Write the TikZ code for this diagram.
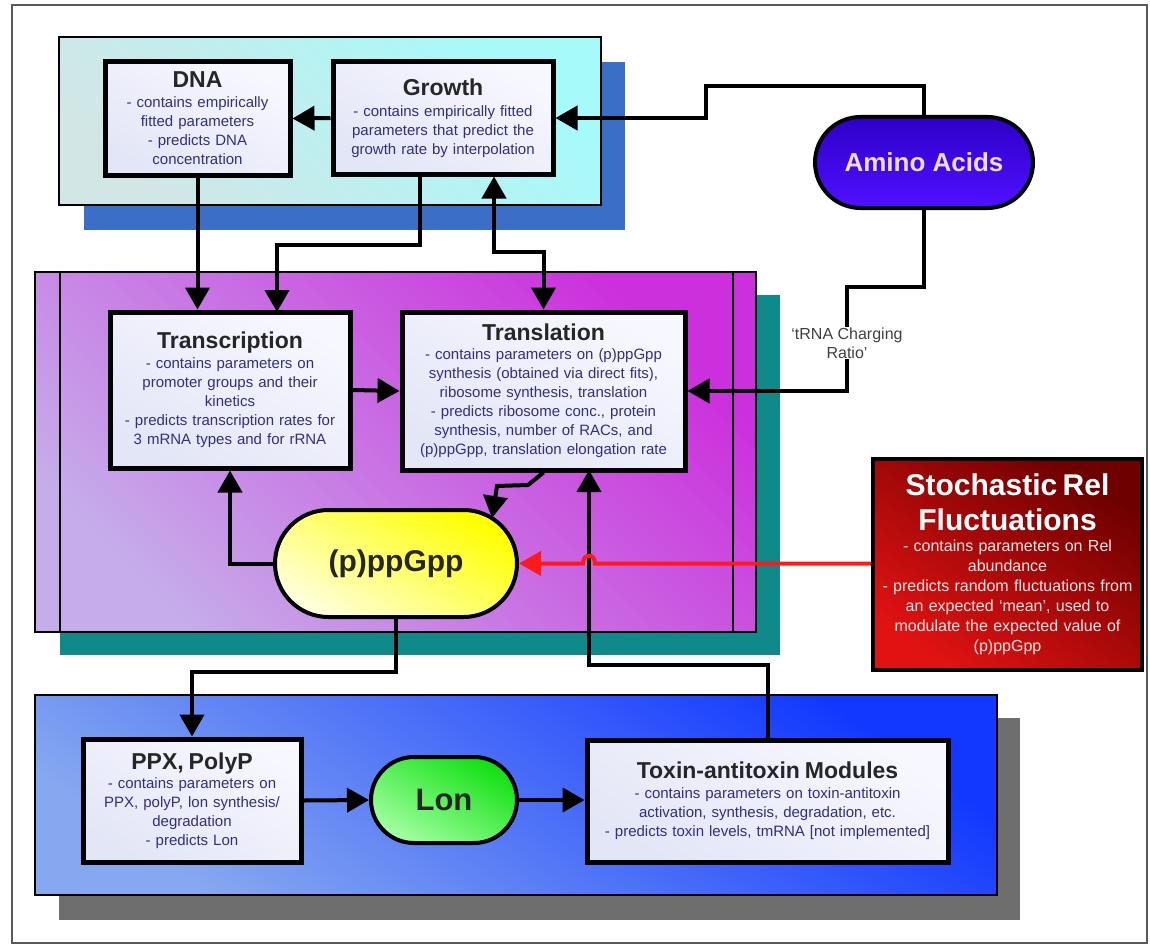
\documentclass[tikz,border=0pt]{standalone}
\usepackage{fontspec}
\setmainfont{Liberation Sans}
\usetikzlibrary{arrows.meta,shapes.misc,calc}
\definecolor{txt}{HTML}{30307E}
\definecolor{boxtop}{HTML}{F7F7FF}
\definecolor{boxbot}{HTML}{E3E6F6}
\definecolor{shadowblue}{HTML}{3B6EC6}
\definecolor{tealsh}{HTML}{10898A}
\definecolor{graysh}{HTML}{6E6E6E}
\definecolor{cyanA}{HTML}{A6FAFA}
\definecolor{cyanB}{HTML}{D2E6E6}
\definecolor{magA}{HTML}{CC30DC}
\definecolor{magB}{HTML}{C6ACEA}
\definecolor{bluA}{HTML}{1238FF}
\definecolor{bluB}{HTML}{86A8F0}
\definecolor{redA}{HTML}{6E0000}
\definecolor{redB}{HTML}{E01212}
\definecolor{amiA}{HTML}{2E00C8}
\definecolor{amiB}{HTML}{5010FF}
\definecolor{amitxt}{HTML}{F2DAFA}
\definecolor{yelA}{HTML}{FFFF00}
\definecolor{yelB}{HTML}{FFFFD8}
\definecolor{lonA}{HTML}{14E014}
\definecolor{lonB}{HTML}{A0FFA0}
\definecolor{stxt}{HTML}{FBE6E6}
\definecolor{redline}{HTML}{FF1A1A}
\newcommand\titlef{\fontsize{23}{26}\selectfont\bfseries\color{black!85}}
\newcommand\bodyf{\fontsize{15}{19}\selectfont\mdseries\color{txt}}
\tikzset{
  box/.style={draw=black, line width=5pt, top color=boxtop, bottom color=boxbot,
    shading angle=-30, align=center, inner sep=0pt, font=\fontsize{15}{19}\selectfont},
  pill/.style={rounded rectangle, draw=black, line width=4pt, inner sep=0pt, align=center},
  conn/.style={line width=4pt, -{Triangle[length=22pt,width=24pt]}},
  panel/.style={draw=black, line width=1.5pt},
}
\begin{document}
\begin{tikzpicture}[x=1pt,y=-1pt]
\useasboundingbox (0,0) rectangle (1150,947);
\fill[white] (0,0) rectangle (1150,947);
\draw[black!65, line width=1.5pt] (12,5) rectangle (1147,943);

% panels
\fill[shadowblue] (84,62) rectangle (625,230);
\draw[panel, top color=cyanA, bottom color=cyanB, shading angle=-45] (59,37) rectangle (601,205);
\fill[tealsh] (60,295) rectangle (780,655);
\draw[panel, top color=magA, bottom color=magB, shading angle=-45] (35,272) rectangle (756,632);
\draw[line width=1.5pt] (60,272) -- (60,632) (733,272) -- (733,632);
\fill[graysh] (59,718) rectangle (1020,920);
\draw[panel, top color=bluA, bottom color=bluB, shading angle=-35] (35,695) rectangle (997,895);

% nodes
\node[box, minimum width=185pt, minimum height=113pt, text width=180pt] (dna) at (197.5,118.5)
  {\titlef DNA\\[1pt]\bodyf - contains empirically\\fitted parameters\\- predicts DNA\\concentration};
\node[box, minimum width=220pt, minimum height=112pt, text width=215pt] (growth) at (443,118)
  {\titlef Growth\\[2pt]\bodyf - contains empirically fitted\\parameters that predict the\\growth rate by interpolation};
\node[pill, minimum width=218pt, minimum height=91pt, top color=amiA, bottom color=amiB,
  font=\fontsize{26}{30}\selectfont\bfseries, text=amitxt] (amino) at (924,162.5) {Amino Acids};
\node[box, minimum width=240pt, minimum height=156pt, text width=235pt] (tr) at (230,390)
  {\titlef Transcription\\[1pt]\bodyf - contains parameters on\\promoter groups and their\\kinetics\\- predicts transcription rates for\\3 mRNA types and for rRNA};
\node[box, minimum width=283pt, minimum height=158pt, text width=280pt] (tl) at (543.5,391)
  {\titlef Translation\\[0pt]\bodyf - contains parameters on (p)ppGpp\\synthesis (obtained via direct fits),\\ribosome synthesis, translation\\- predicts ribosome conc., protein\\synthesis, number of RACs, and\\(p)ppGpp, translation elongation rate};
\node[pill, minimum width=242pt, minimum height=107pt, top color=yelA, bottom color=yelB,
  shading angle=-30, font=\fontsize{30}{34}\selectfont\bfseries, text=black!85] (pp) at (396,563.5) {(p)ppGpp};
\node[draw=black, line width=4pt, minimum width=269pt, minimum height=211pt, text width=264pt,
  top color=redA, bottom color=redB, shading angle=-35, align=center, inner sep=0pt,
  font=\fontsize{16}{20}\selectfont] (st) at (1007.5,564.5)
  {\fontsize{30}{35}\selectfont\bfseries\color{white} Stochastic Rel\\Fluctuations\\[1pt]
   \fontsize{16}{20}\selectfont\mdseries\color{stxt} - contains parameters on Rel\\abundance\\- predicts random fluctuations from\\an expected `mean', used to\\modulate the expected value of\\(p)ppGpp};
\node[box, minimum width=218pt, minimum height=123pt, text width=214pt] (ppx) at (192,800.5)
  {\titlef PPX, PolyP\\[0pt]\bodyf - contains parameters on\\PPX, polyP, lon synthesis/\\degradation\\- predicts Lon};
\node[pill, minimum width=146pt, minimum height=86pt, top color=lonA, bottom color=lonB,
  shading angle=-30, font=\fontsize{31}{34}\selectfont\bfseries, text=black!85] (lon) at (444,800) {Lon};
\node[box, minimum width=361pt, minimum height=122pt, text width=356pt] (tox) at (767.5,801)
  {\titlef Toxin-antitoxin Modules\\[1pt]\bodyf - contains parameters on toxin-antitoxin\\activation, synthesis, degradation, etc.\\- predicts toxin levels, tmRNA [not implemented]};

\coordinate (ppin) at (492,518);

% connectors
\draw[conn] (amino.north) -- (924,86) -- (706,86) -- (706,118) -- (growth.east);
\draw[conn] (growth.west) -- (dna.east);
\draw[conn] (dna.south) -- (dna.south |- tr.north);
\draw[conn] ([xshift=-23pt]growth.south) -- (420,245) -- (277,245) -- (277,312);
\draw[line width=4pt, {Triangle[length=22pt,width=24pt]}-{Triangle[length=22pt,width=24pt]}]
  ([xshift=51pt]growth.south) -- (494,252) -- (543.5,252) -- (tl.north);
\draw[conn] (tr.east) -- (tl.west);
\draw[conn] (amino.south) -- (924,287) -- (847,287) -- (847,391) -- (tl.east);
\node[font=\fontsize{16}{19}\selectfont, fill=white, inner sep=1pt, align=center, text=black!75] (trna) at (847,343) {`tRNA Charging\\Ratio'};
\draw[conn] (pp.west) -- (pp.west -| tr.south) -- (tr.south);
\draw[conn] (tl.south) -- (528,485) -- (497,486) -- (ppin);
\draw[conn] (tox.north) -- (767.5,665) -- (589,665) -- (589,470);
\draw[conn] (pp.south) -- (396,672) -- (192,672) -- (ppx.north);
\draw[conn] (ppx.east) -- (lon.west);
\draw[conn] (lon.east) -- (lon.east -| tox.west);
\draw[line width=4pt, redline, -{Triangle[length=22pt,width=24pt]}]
  (st.west |- pp.east) -- (595,563.5) .. controls (595,553) and (583,553) .. (583,563.5) -- (pp.east);
\end{tikzpicture}
\end{document}
